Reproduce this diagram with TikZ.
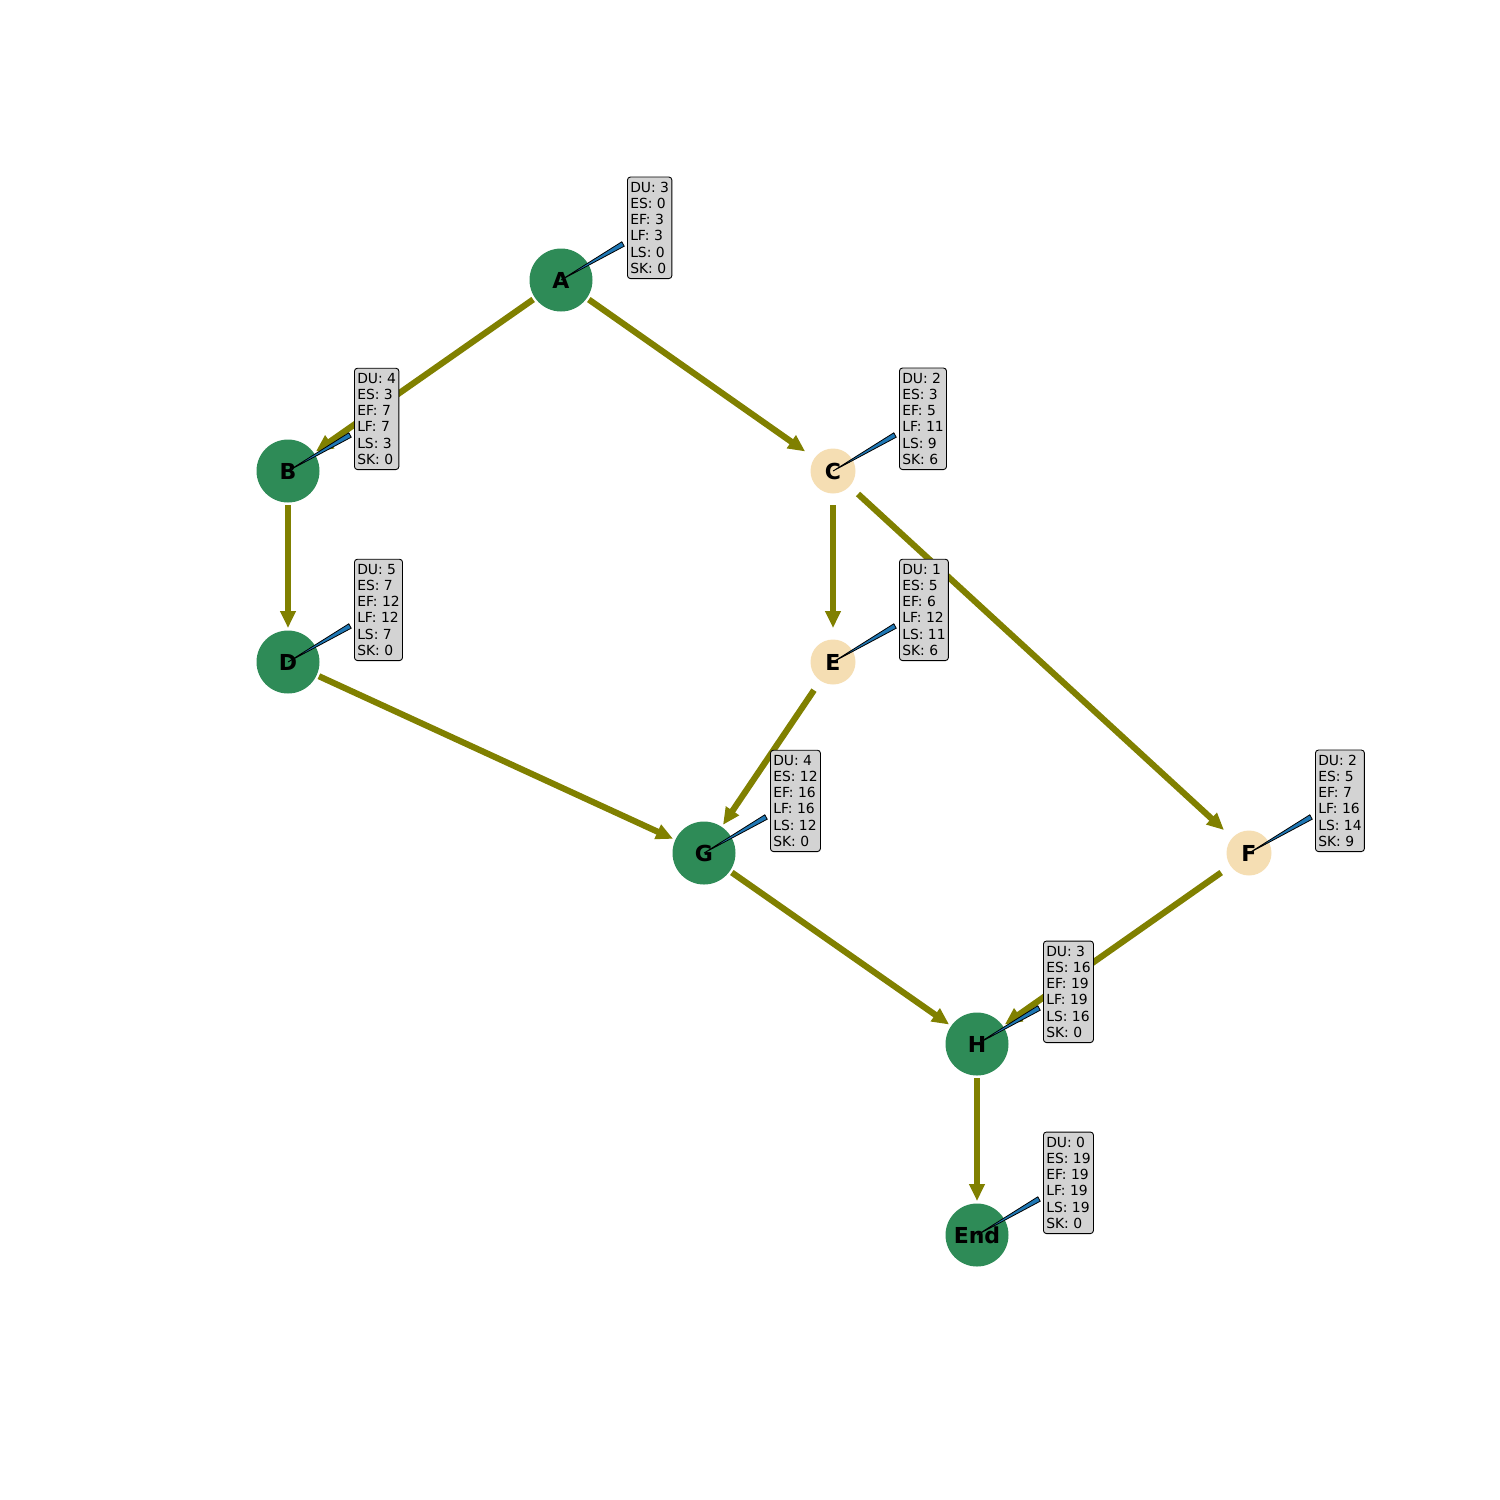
\documentclass[tikz,border=0pt]{standalone}
\usepackage{fontspec}
\setmainfont{DejaVu Sans}
\usepackage{tikz}
\usetikzlibrary{arrows.meta, calc}
\definecolor{critColor}{HTML}{2E8B57}
\definecolor{slackColor}{HTML}{F5DEB3}
\definecolor{depColor}{HTML}{808000}
\definecolor{infoFill}{HTML}{D3D3D3}
\definecolor{wedgeColor}{HTML}{1F77B4}
\tikzset{
  task/.style={circle, inner sep=0pt, font=\fontsize{22}{26}\selectfont\bfseries},
  crit/.style={task, fill=critColor, minimum size=63pt},
  slack/.style={task, fill=slackColor, minimum size=45pt},
  dep/.style={line width=6.2pt, draw=depColor, -{Triangle[length=17pt,width=15pt]}, shorten <=34pt, shorten >=34pt},
  info/.style={draw=black, fill=infoFill, rounded corners=3pt, line width=0.9pt, align=left, anchor=south west, inner xsep=2.8pt, inner ysep=5pt, font=\fontsize{13.9}{16.2}\selectfont},
  wedge/.style={fill=wedgeColor, draw=black, line width=0.8pt}
}

\begin{document}
\begin{tikzpicture}[x=1pt, y=-1pt]
    \useasboundingbox (0,0) rectangle (1500,1500);

    \node[crit] (A) at (561,280) {A};
    \node[crit] (B) at (288,471) {B};
    \node[slack] (C) at (833,471) {C};
    \node[crit] (D) at (288,662) {D};
    \node[slack] (E) at (833,662) {E};
    \node[crit] (G) at (704,853) {G};
    \node[slack] (F) at (1249,853) {F};
    \node[crit] (H) at (977,1044) {H};
    \node[crit] (End) at (977,1235) {End};

    \draw[dep] (A.center) -- (B.center);
    \draw[dep] (A.center) -- (C.center);
    \draw[dep] (B.center) -- (D.center);
    \draw[dep] (C.center) -- (E.center);
    \draw[dep] (C.center) -- (F.center);
    \draw[dep] (D.center) -- (G.center);
    \draw[dep] (E.center) -- (G.center);
    \draw[dep] (G.center) -- (H.center);
    \draw[dep] (F.center) -- (H.center);
    \draw[dep] (H.center) -- (End.center);

    % zeiger von knoten zur tabelle
    \filldraw[wedge] (A.center) -- ($(A)+(63.2,-33.8)$) -- ($(A)+(60.8,-38.2)$) -- cycle;
    \filldraw[wedge] (B.center) -- ($(B)+(63.2,-33.8)$) -- ($(B)+(60.8,-38.2)$) -- cycle;
    \filldraw[wedge] (C.center) -- ($(C)+(63.2,-33.8)$) -- ($(C)+(60.8,-38.2)$) -- cycle;
    \filldraw[wedge] (D.center) -- ($(D)+(63.2,-33.8)$) -- ($(D)+(60.8,-38.2)$) -- cycle;
    \filldraw[wedge] (E.center) -- ($(E)+(63.2,-33.8)$) -- ($(E)+(60.8,-38.2)$) -- cycle;
    \filldraw[wedge] (G.center) -- ($(G)+(63.2,-33.8)$) -- ($(G)+(60.8,-38.2)$) -- cycle;
    \filldraw[wedge] (F.center) -- ($(F)+(63.2,-33.8)$) -- ($(F)+(60.8,-38.2)$) -- cycle;
    \filldraw[wedge] (H.center) -- ($(H)+(63.2,-33.8)$) -- ($(H)+(60.8,-38.2)$) -- cycle;
    \filldraw[wedge] (End.center) -- ($(End)+(63.2,-33.8)$) -- ($(End)+(60.8,-38.2)$) -- cycle;

    % zeitwerte
    \node[info] (iA) at ($(A)+(66,-1)$) {DU: 3\\ES: 0\\EF: 3\\LF: 3\\LS: 0\\SK: 0};
    \node[info] (iB) at ($(B)+(66,-1)$) {DU: 4\\ES: 3\\EF: 7\\LF: 7\\LS: 3\\SK: 0};
    \node[info] (iC) at ($(C)+(66,-1)$) {DU: 2\\ES: 3\\EF: 5\\LF: 11\\LS: 9\\SK: 6};
    \node[info] (iD) at ($(D)+(66,-1)$) {DU: 5\\ES: 7\\EF: 12\\LF: 12\\LS: 7\\SK: 0};
    \node[info] (iE) at ($(E)+(66,-1)$) {DU: 1\\ES: 5\\EF: 6\\LF: 12\\LS: 11\\SK: 6};
    \node[info] (iG) at ($(G)+(66,-1)$) {DU: 4\\ES: 12\\EF: 16\\LF: 16\\LS: 12\\SK: 0};
    \node[info] (iF) at ($(F)+(66,-1)$) {DU: 2\\ES: 5\\EF: 7\\LF: 16\\LS: 14\\SK: 9};
    \node[info] (iH) at ($(H)+(66,-1)$) {DU: 3\\ES: 16\\EF: 19\\LF: 19\\LS: 16\\SK: 0};
    \node[info] (iEnd) at ($(End)+(66,-1)$) {DU: 0\\ES: 19\\EF: 19\\LF: 19\\LS: 19\\SK: 0};
\end{tikzpicture}
\end{document}
